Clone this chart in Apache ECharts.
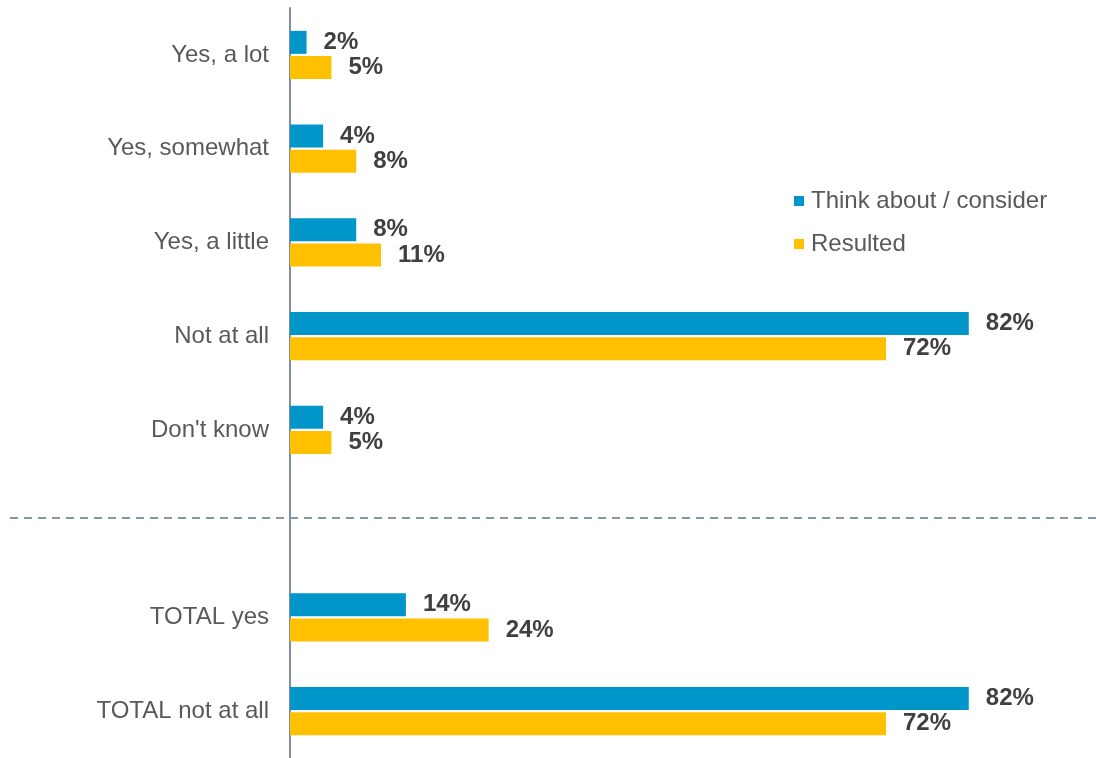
<!DOCTYPE html>
<html lang="en">
<head>
    <meta charset="UTF-8">
    <title>Think about / resulted</title>
    <script src="https://cdn.jsdelivr.net/npm/echarts@6/dist/echarts.min.js"></script>
    <style>
        html, body { margin: 0; padding: 0; background: #fff; }
        #chart { width: 1096px; height: 758px; }
    </style>
</head>
<body>
<div id="chart"></div>
<script type="text/javascript">
    // answers, top to bottom; '' is the spacer row under the dashed line
    var categories = ['Yes, a lot', 'Yes, somewhat', 'Yes, a little', 'Not at all', "Don't know", '', 'TOTAL yes', 'TOTAL not at all'];
    var thinkAbout = [2, 4, 8, 82, 4, '-', 14, 82];
    var resulted = [5, 8, 11, 72, 5, '-', 24, 72];
    var seriesNames = ['Think about / consider', 'Resulted'];

    var myChart = echarts.init(document.getElementById('chart'));

    var labelStyle = {
        show: true,
        position: 'right',
        distance: 17,
        formatter: '{c}%',
        fontFamily: 'Liberation Sans, Arial, sans-serif',
        fontSize: 24,
        fontWeight: 'bold',
        color: '#404040'
    };

    var option = {
        animation: false,
        textStyle: { fontFamily: 'Liberation Sans, Arial, sans-serif' },
        grid: { left: 290, right: 61, top: 8, bottom: 0, containLabel: false },
        legend: {
            orient: 'vertical',
            left: 789,
            top: 184,
            icon: 'rect',
            itemWidth: 10,
            itemHeight: 10,
            itemGap: 19,
            data: seriesNames,
            textStyle: { fontSize: 24, color: '#595959', lineHeight: 24, padding: [0, 0, 0, 2] }
        },
        xAxis: {
            type: 'value',
            min: 0,
            max: 90,
            show: false
        },
        yAxis: {
            type: 'category',
            inverse: true,
            data: categories,
            axisTick: { show: false },
            axisLine: { show: true, lineStyle: { color: '#7f8fa0', width: 2 } },
            axisLabel: { fontSize: 24, color: '#595959', margin: 21 }
        },
        series: [
            {
                name: seriesNames[0],
                type: 'bar',
                data: thinkAbout,
                barWidth: 23,
                barGap: '9%',
                itemStyle: { color: '#0096c9' },
                label: labelStyle
            },
            {
                name: seriesNames[1],
                type: 'bar',
                data: resulted,
                barWidth: 23,
                itemStyle: { color: '#ffc000' },
                label: labelStyle
            }
        ],
        graphic: [{
            type: 'line',
            shape: { x1: 10, y1: 518, x2: 1096, y2: 518 },
            style: { stroke: '#8496a6', lineWidth: 2, lineDash: [8, 6] },
            z: 0
        }]
    };

    myChart.setOption(option);
</script>
</body>
</html>
